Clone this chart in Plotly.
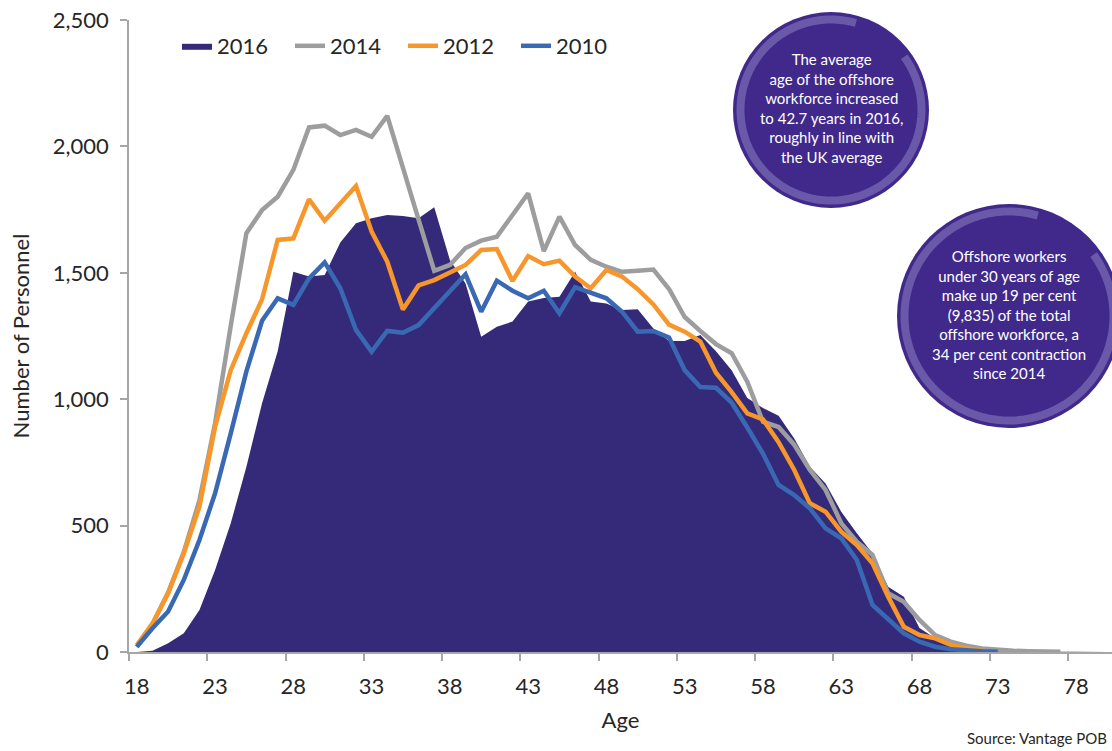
import numpy as np
import plotly.graph_objects as go

# ---------------- data ----------------
ages_2016 = list(range(18, 81))
personnel_2016 = [0, 5, 35, 74, 166, 324, 509, 733, 984, 1190,
                  1504, 1485, 1491, 1620, 1696, 1716, 1729, 1725, 1716, 1759,
                  1551, 1458, 1247, 1287, 1307, 1386, 1400, 1405, 1504, 1386,
                  1379, 1353, 1356, 1280, 1230, 1230, 1254, 1190, 1115, 1005,
                  965, 935, 845, 733, 667, 555, 470, 390, 258, 219,
                  95, 54, 47, 25, 14, 8, 5, 3, 2, 1,
                  1, 0, 0]

ages_2014 = list(range(18, 78))
personnel_2014 = [20, 110, 235, 395, 600, 905, 1290, 1657, 1748, 1801,
                  1907, 2075, 2082, 2045, 2065, 2038, 2121, 1910, 1710, 1508,
                  1531, 1598, 1627, 1643, 1729, 1814, 1586, 1722, 1610, 1551,
                  1524, 1504, 1508, 1513, 1436, 1325, 1270, 1218, 1182, 1069,
                  911, 890, 820, 720, 641, 510, 436, 384, 232, 199,
                  127, 67, 41, 25, 14, 8, 5, 3, 2, 1]

ages_2012 = list(range(18, 73))
personnel_2012 = [27, 113, 232, 390, 575, 891, 1115, 1261, 1395, 1630,
                  1636, 1791, 1706, 1775, 1843, 1663, 1544, 1355, 1450, 1471,
                  1502, 1531, 1590, 1594, 1468, 1566, 1534, 1548, 1485, 1439,
                  1511, 1485, 1435, 1375, 1295, 1267, 1228, 1105, 1028, 944,
                  920, 830, 720, 588, 555, 476, 423, 351, 219, 100,
                  67, 54, 28, 15, 8]

ages_2010 = list(range(18, 74))
personnel_2010 = [21, 94, 160, 285, 443, 628, 865, 1110, 1310, 1399,
                  1373, 1478, 1541, 1439, 1274, 1188, 1270, 1263, 1293, 1360,
                  1425, 1494, 1346, 1469, 1429, 1399, 1429, 1340, 1443, 1419,
                  1399, 1346, 1267, 1270, 1244, 1115, 1048, 1045, 987, 888,
                  785, 661, 621, 568, 489, 450, 364, 186, 127, 74,
                  41, 21, 11, 5, 3, 1]

x_tick_vals = list(range(18, 79, 5))
x_tick_text = [str(v) for v in x_tick_vals]
y_tick_vals = [0, 500, 1000, 1500, 2000, 2500]
y_tick_text = ["0", "500", "1,000", "1,500", "2,000", "2,500"]

note_1 = "The average<br>age of the offshore<br>workforce increased<br>to 42.7 years in 2016,<br>roughly in line with<br>the UK average"
note_2 = ("Offshore workers<br>under 30 years of age<br>make up 19 per cent<br>(9,835) of the total"
          "<br>offshore workforce, a<br>34 per cent contraction<br>since 2014")

# ---------------- style ----------------
FONT = "Lato"
C2016 = "#352a7a"
C2014 = "#9d9d9f"
C2012 = "#f7962b"
C2010 = "#3a69b4"
CIRCLE = "#40298a"
RING = "#6a58a8"
AXIS = "#a6a6a6"
TXT = "#262626"

W, H = 1112, 751
ML, MR, MT, MB = 129, 0, 20, 99
PW, PH = W - ML - MR, H - MT - MB


def px_x(X):
    return (X - ML) / PW


def px_y(Y):
    return (H - MB - Y) / PH


fig = go.Figure()
fig.add_trace(go.Scatter(x=ages_2016, y=personnel_2016, name="2016", mode="lines",
                         fill="tozeroy", fillcolor=C2016, line=dict(width=0, color=C2016)))
fig.add_trace(go.Scatter(x=ages_2014, y=personnel_2014, name="2014", mode="lines",
                         line=dict(width=4.5, color=C2014)))
fig.add_trace(go.Scatter(x=ages_2012, y=personnel_2012, name="2012", mode="lines",
                         line=dict(width=4.5, color=C2012)))
fig.add_trace(go.Scatter(x=ages_2010, y=personnel_2010, name="2010", mode="lines",
                         line=dict(width=4.5, color=C2010)))

# ---------------- circles ----------------
shapes = []
annotations = []
circles = [(831, 110, 98, note_1), (1009, 316, 112, note_2)]
for cx, cy, r, txt in circles:
    shapes.append(dict(type="circle", xref="paper", yref="paper",
                       x0=px_x(cx - r), x1=px_x(cx + r), y0=px_y(cy + r), y1=px_y(cy - r),
                       fillcolor=CIRCLE, line=dict(width=0), layer="above"))
    rr = r - 7.5
    ang = np.radians(np.linspace(74, 396, 160))
    xs = cx + rr * np.cos(ang)
    ys = cy - rr * np.sin(ang)
    path = "M " + " L ".join(f"{px_x(a):.5f},{px_y(b):.5f}" for a, b in zip(xs, ys))
    shapes.append(dict(type="path", xref="paper", yref="paper", path=path,
                       line=dict(color=RING, width=8), layer="above"))
    annotations.append(dict(x=px_x(cx), y=px_y(cy - 2), xref="paper", yref="paper",
                            text=txt, showarrow=False, xanchor="center", yanchor="middle",
                            font=dict(family=FONT, size=15, color="white")))

annotations.append(dict(x=px_x(1109), y=px_y(738), xref="paper", yref="paper",
                        text="Source: Vantage POB", showarrow=False,
                        xanchor="right", yanchor="middle",
                        font=dict(family=FONT, size=15, color=TXT)))

fig.update_layout(
    width=W, height=H,
    margin=dict(l=ML, r=MR, t=MT, b=MB, pad=0),
    paper_bgcolor="white", plot_bgcolor="white",
    font=dict(family=FONT, size=22, color=TXT),
    showlegend=True,
    legend=dict(orientation="h", x=px_x(177), y=px_y(46), xanchor="left", yanchor="middle",
                font=dict(family=FONT, size=22, color=TXT), bgcolor="rgba(0,0,0,0)",
                entrywidth=68, entrywidthmode="pixels", itemwidth=30, traceorder="normal"),
    xaxis=dict(range=[17.5, 80.3], tickmode="array", tickvals=x_tick_vals, ticktext=x_tick_text,
               ticks="", showgrid=False, zeroline=False, showline=True, linecolor=AXIS,
               linewidth=1.5, tickfont=dict(family=FONT, size=22, color=TXT),
               ticklabelstandoff=14, ticklabeloverflow="allow",
               minor=dict(tickmode="array", tickvals=[v - 0.5 for v in x_tick_vals] + [82.5],
                          ticks="outside", ticklen=7, tickcolor=AXIS, tickwidth=1.5, showgrid=False),
               title=dict(text="Age", font=dict(family=FONT, size=22, color=TXT), standoff=14)),
    yaxis=dict(range=[0, 2500], tickmode="array", tickvals=y_tick_vals, ticktext=y_tick_text,
               ticks="outside", ticklen=7, tickcolor=AXIS, tickwidth=1.5,
               showgrid=False, zeroline=False, showline=True, linecolor=AXIS, linewidth=1.5,
               tickfont=dict(family=FONT, size=22, color=TXT), ticklabelstandoff=7,
               ticklabeloverflow="allow",
               title=dict(text="Number of Personnel", font=dict(family=FONT, size=22, color=TXT),
                          standoff=17)),
    shapes=shapes,
    annotations=annotations,
)

fig.write_html("out.html", config={"displayModeBar": False},
               post_script="document.body.style.margin='0';document.body.style.padding='0';")
